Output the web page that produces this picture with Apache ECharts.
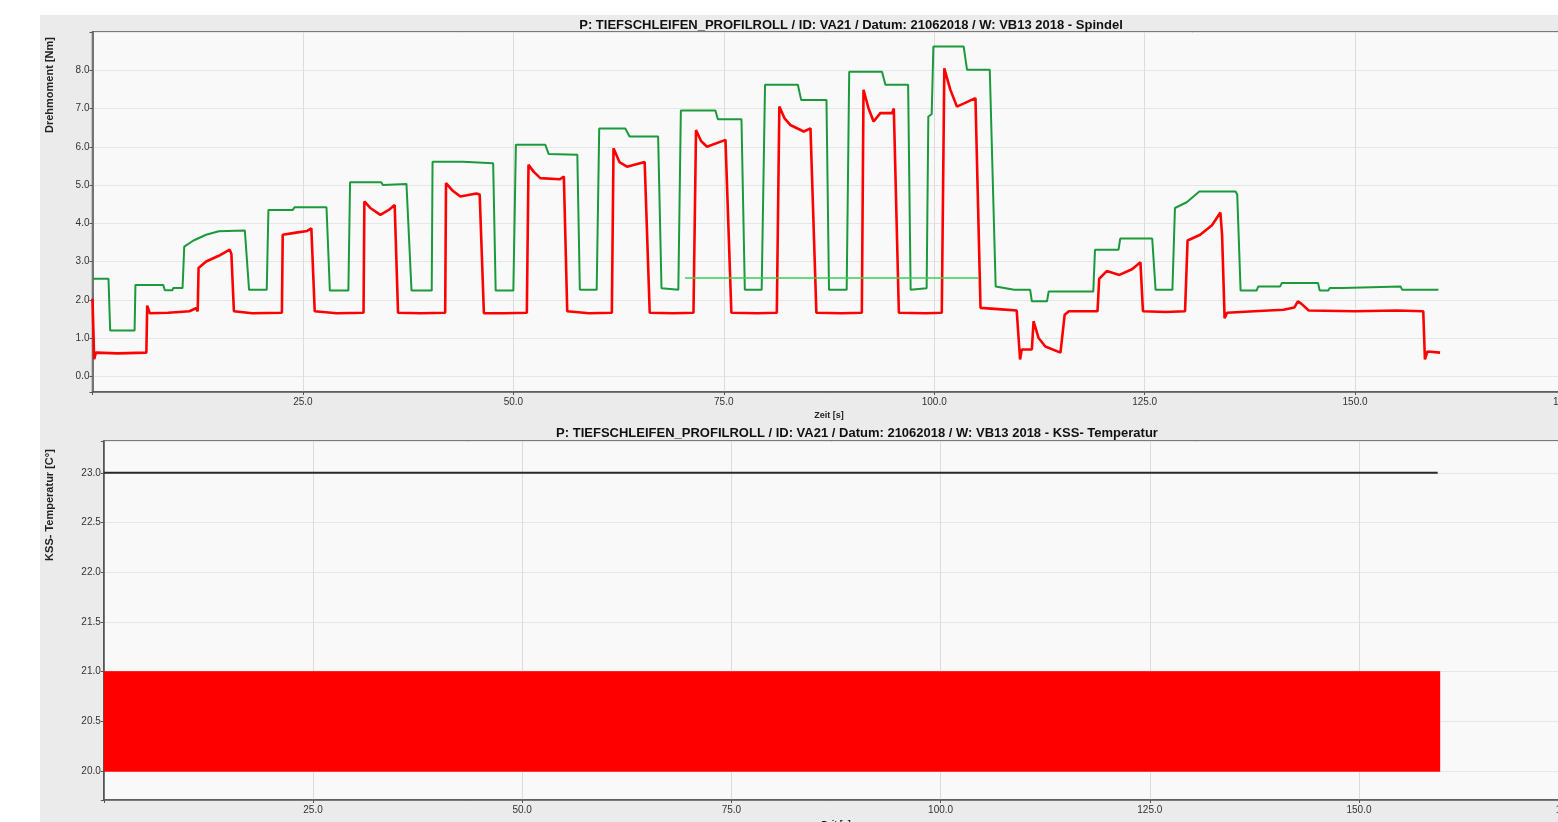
<!DOCTYPE html>
<html>
<head>
<meta charset="utf-8">
<script src="https://cdn.jsdelivr.net/npm/echarts/dist/echarts.min.js"></script>
<style>
  html, body { margin: 0; padding: 0; background: #ffffff; }
  #chart { width: 1558px; height: 822px; }
</style>
</head>
<body>
<div id="chart"></div>
<script>
// Spindle torque [Nm] over time [s]: upper limit (green) and measured torque (red)
const torqueLimit = [
  [0,2.55],[1.9,2.55],[2.1,1.20],[5.0,1.20],[5.1,2.39],[8.4,2.39],[8.6,2.25],[9.5,2.25],[9.6,2.31],[10.7,2.31],
  [10.9,3.39],[12.0,3.55],[13.5,3.70],[15.0,3.79],[18.1,3.81],[18.6,2.26],[20.7,2.26],[20.9,4.35],[23.8,4.35],[24.0,4.42],
  [27.8,4.42],[28.2,2.24],[30.4,2.24],[30.6,5.07],[34.3,5.07],[34.5,5.00],[34.7,5.03],[37.3,5.03],[37.9,2.24],[40.3,2.24],
  [40.4,5.61],[44.0,5.61],[44.2,5.57],[47.6,5.57],[47.9,2.24],[50.0,2.24],[50.3,6.05],[53.8,6.05],[54.2,5.81],[57.6,5.79],
  [57.9,2.26],[59.9,2.26],[60.2,6.48],[63.3,6.48],[63.8,6.27],[67.2,6.27],[67.6,2.30],[69.6,2.26],[69.9,6.95],[74.0,6.95],
  [74.3,6.72],[77.1,6.72],[77.5,2.26],[79.5,2.26],[79.9,7.62],[83.8,7.62],[84.2,7.22],[87.2,7.22],[87.5,2.26],[89.6,2.26],
  [89.9,7.96],[93.8,7.96],[94.2,7.62],[96.9,7.62],[97.2,2.26],[99.1,2.30],[99.3,6.79],[99.7,6.85],[99.9,8.62],[103.5,8.62],
  [103.9,8.01],[106.6,8.01],[107.3,2.35],[109.5,2.26],[111.4,2.26],[111.6,1.96],[113.4,1.96],[113.6,2.22],[118.9,2.22],[119.1,3.31],
  [121.9,3.31],[122.1,3.60],[125.9,3.60],[126.3,2.26],[128.3,2.26],[128.6,4.40],[130.0,4.55],[131.5,4.83],[135.8,4.83],[136.0,4.75],
  [136.4,2.24],[138.3,2.24],[138.5,2.35],[141.1,2.35],[141.3,2.44],[145.6,2.44],[145.8,2.24],[146.8,2.24],[147.0,2.31],[148.5,2.31],
  [148.7,2.35],[155.4,2.35],[155.6,2.26],[159.9,2.26]
];

const torqueActual = [
  [0,2.03],[0.2,0.45],[0.4,0.62],[3.0,0.60],[6.4,0.62],[6.5,1.85],[6.8,1.65],[9.0,1.66],[11.5,1.70],[12.3,1.78],
  [12.5,1.70],[12.6,2.83],[13.5,3.00],[15.0,3.15],[16.3,3.31],[16.5,3.20],[16.8,1.70],[19.0,1.65],[22.5,1.66],[22.6,3.70],
  [24.0,3.75],[25.5,3.80],[26.0,3.87],[26.4,1.70],[29.0,1.65],[32.2,1.66],[32.3,4.57],[33.0,4.40],[34.2,4.22],[35.2,4.35],
  [35.9,4.48],[36.3,1.66],[39.0,1.65],[41.9,1.66],[42.0,5.05],[42.8,4.85],[43.7,4.70],[45.6,4.78],[46.0,4.75],[46.5,1.65],
  [49.0,1.65],[51.6,1.66],[51.8,5.53],[52.4,5.35],[53.2,5.18],[55.5,5.15],[56.0,5.22],[56.4,1.70],[59.0,1.65],[61.7,1.66],
  [61.9,5.96],[62.6,5.60],[63.5,5.48],[65.6,5.60],[66.2,1.66],[69.0,1.65],[71.4,1.66],[71.7,6.44],[72.3,6.15],[73.0,6.00],
  [75.2,6.18],[75.9,1.66],[79.0,1.65],[81.3,1.66],[81.6,7.05],[82.2,6.75],[82.9,6.57],[84.5,6.40],[85.3,6.48],[86.0,1.66],
  [89.0,1.65],[91.4,1.66],[91.6,7.49],[92.2,7.00],[92.8,6.66],[93.6,6.88],[95.0,6.88],[95.2,7.00],[95.8,1.66],[99.0,1.65],
  [100.9,1.66],[101.2,8.05],[101.9,7.50],[102.7,7.05],[104.9,7.27],[105.5,1.79],[108.0,1.75],[109.8,1.72],[110.2,0.44],[110.4,0.70],
  [111.6,0.70],[111.8,1.44],[112.4,1.00],[113.2,0.78],[115.0,0.62],[115.5,1.61],[116.0,1.70],[119.4,1.70],[119.6,2.55],[120.5,2.75],
  [122.0,2.65],[123.5,2.80],[124.5,2.98],[124.8,1.70],[127.5,1.68],[129.8,1.70],[130.1,3.55],[131.6,3.70],[133.0,3.95],[134.0,4.28],
  [134.2,3.70],[134.5,1.52],[134.8,1.66],[138.0,1.70],[141.5,1.74],[142.8,1.80],[143.2,1.96],[143.6,1.90],[144.5,1.72],[150.0,1.70],
  [155.0,1.72],[158.1,1.70],[158.3,0.44],[158.6,0.65],[160.1,0.62]
];

const torqueRefLine = [[70.4,2.57],[105.3,2.57]];

// Coolant (KSS) temperature [°C]: reference level and the range the measured signal swings through
const kssRef = [[0,23.0],[159.4,23.0]];
const kssTime = [0, 25, 50, 75, 100, 125, 150, 159.7];
const kssHigh = [21.0, 21.0, 21.0, 21.0, 21.0, 21.0, 21.0, 21.0];
const kssLow  = [20.0, 20.0, 20.0, 20.0, 20.0, 20.0, 20.0, 20.0];
const kssBase = 20.0;

const titleTop = 'P: TIEFSCHLEIFEN_PROFILROLL / ID: VA21 / Datum: 21062018 / W: VB13 2018 - Spindel';
const titleBottom = 'P: TIEFSCHLEIFEN_PROFILROLL / ID: VA21 / Datum: 21062018 / W: VB13 2018 - KSS- Temperatur';

const FONT = '"Liberation Sans", Arial, sans-serif';
const axisColor = '#555555';

function xAxisCfg(gridIndex, nameGap) {
  return {
    type: 'value', gridIndex, min: 0, max: 175, interval: 25,
    name: 'Zeit [s]', nameLocation: 'middle', nameGap,
    nameTextStyle: { fontFamily: FONT, fontSize: 9, fontWeight: 'bold', color: '#222' },
    axisLine: { show: true, onZero: false, lineStyle: { color: axisColor, width: 1.5 } },
    axisTick: { show: true, length: 3, lineStyle: { color: axisColor } },
    axisLabel: {
      fontFamily: FONT, fontSize: 10, color: '#333', margin: 5,
      formatter: v => (v > 0 ? v.toFixed(1) : '')
    },
    splitLine: { show: true, lineStyle: { color: '#dcdcdc', width: 1 } }
  };
}

function yAxisCfg(gridIndex, min, max, splitNumber, lo, hi, step) {
  return {
    type: 'value', gridIndex, min, max, splitNumber,
    axisLine: { show: true, lineStyle: { color: axisColor, width: 1.5 } },
    axisTick: { show: true, length: 3, lineStyle: { color: axisColor } },
    axisLabel: {
      fontFamily: FONT, fontSize: 10, color: '#333', margin: 3,
      formatter: v => {
        const k = v / step;
        return (v >= lo - 1e-6 && v <= hi + 1e-6 && Math.abs(k - Math.round(k)) < 1e-6) ? v.toFixed(1) : '';
      }
    },
    splitLine: { show: true, lineStyle: { color: '#e6e6e6', width: 1 } }
  };
}

const chart = echarts.init(document.getElementById('chart'));
chart.setOption({
  animation: false,
  backgroundColor: '#ebebeb',
  graphic: [
    { type: 'rect', shape: { x: 0, y: 0, width: 40, height: 822 }, style: { fill: '#ffffff' }, z: 100 },
    { type: 'rect', shape: { x: 0, y: 0, width: 1558, height: 15 }, style: { fill: '#ffffff' }, z: 100 },
    { type: 'text', x: 851, y: 25, style: { text: titleTop, align: 'center', verticalAlign: 'middle', font: 'bold 13px ' + FONT, fill: '#111' } },
    { type: 'text', x: 857, y: 433, style: { text: titleBottom, align: 'center', verticalAlign: 'middle', font: 'bold 13px ' + FONT, fill: '#111' } },
    { type: 'text', x: 50, y: 85, rotation: Math.PI / 2, style: { text: 'Drehmoment [Nm]', align: 'center', verticalAlign: 'middle', font: 'bold 11px ' + FONT, fill: '#222' } },
    { type: 'text', x: 50, y: 505, rotation: Math.PI / 2, style: { text: 'KSS- Temperatur [C°]', align: 'center', verticalAlign: 'middle', font: 'bold 11px ' + FONT, fill: '#222' } }
  ],
  grid: [
    { left: 92.5, top: 32, width: 1473, height: 360, outerBoundsMode: 'none', containLabel: false,
      show: true, backgroundColor: '#f9f9f9', borderColor: axisColor, borderWidth: 1.5 },
    { left: 103.8, top: 441, width: 1464.4, height: 359, outerBoundsMode: 'none', containLabel: false,
      show: true, backgroundColor: '#f9f9f9', borderColor: axisColor, borderWidth: 1.5 }
  ],
  xAxis: [xAxisCfg(0, 19), xAxisCfg(1, 20)],
  yAxis: [
    yAxisCfg(0, -0.41, 9.0, 9, 0, 8, 1),
    yAxisCfg(1, 19.71, 23.32, 7, 20, 23, 0.5)
  ],
  series: [
    {
      type: 'line', xAxisIndex: 0, yAxisIndex: 0, data: torqueLimit, showSymbol: false, z: 2,
      lineStyle: { color: '#1b9a3c', width: 2 }
    },
    {
      type: 'line', xAxisIndex: 0, yAxisIndex: 0, data: torqueActual, showSymbol: false, z: 3,
      lineStyle: { color: '#ff0000', width: 2.6 }
    },
    {
      type: 'line', xAxisIndex: 0, yAxisIndex: 0, data: torqueRefLine, showSymbol: false, z: 4,
      lineStyle: { color: '#3ccc55', width: 1.3 }
    },
    {
      type: 'line', xAxisIndex: 1, yAxisIndex: 1, data: kssRef, showSymbol: false, z: 3,
      lineStyle: { color: '#2a2a2a', width: 2 }
    },
    {
      type: 'line', xAxisIndex: 1, yAxisIndex: 1, showSymbol: false, z: 2,
      data: kssTime.map((t, i) => [t, kssHigh[i]]),
      lineStyle: { color: '#ff0000', width: 1 },
      areaStyle: { color: '#ff0000', opacity: 1, origin: kssBase }
    },
    {
      type: 'line', xAxisIndex: 1, yAxisIndex: 1, showSymbol: false, z: 2,
      data: kssTime.map((t, i) => [t, kssLow[i]]),
      lineStyle: { color: '#ff0000', width: 1 }
    }
  ]
});
</script>
</body>
</html>
